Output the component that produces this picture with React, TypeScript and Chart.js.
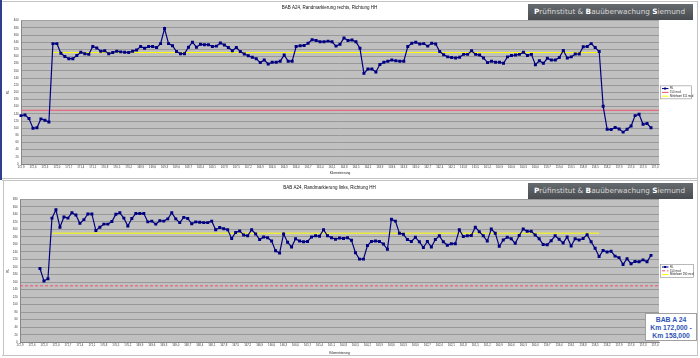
import React, { useEffect, useRef } from 'react';
import { Chart, registerables } from 'chart.js';
Chart.register(...registerables);

// ---------- DATA ----------
const kmLabels: string[] = (
  '172,9 172,8 172,7 172,6 172,5 172,4 172,3 172,2 172,1 172,0 ' +
  '171,9 171,8 171,7 171,6 171,5 171,4 171,3 171,2 171,1 171,0 ' +
  '170,9 170,8 170,7 170,6 170,5 170,4 170,3 170,2 170,1 170,0 ' +
  '169,9 169,8 169,7 169,6 169,5 169,4 169,3 169,2 169,1 169,0 ' +
  '168,9 168,8 168,7 168,6 168,5 168,4 168,3 168,2 168,1 168,0 ' +
  '167,9 167,8 167,7 167,6 167,5 167,4 167,3 167,2 167,1 167,0 ' +
  '166,9 166,8 166,7 166,6 166,5 166,4 166,3 166,2 166,1 166,0 ' +
  '165,9 165,8 165,7 165,6 165,5 165,4 165,3 165,2 165,1 165,0 ' +
  '164,9 164,8 164,7 164,6 164,5 164,4 164,3 164,2 164,1 164,0 ' +
  '163,9 163,8 163,7 163,6 163,5 163,4 163,3 163,2 163,1 163,0 ' +
  '162,9 162,8 162,7 162,6 162,5 162,4 162,3 162,2 162,1 162,0 ' +
  '161,9 161,8 161,7 161,6 161,5 161,4 161,3 161,2 161,1 161,0 ' +
  '160,9 160,8 160,7 160,6 160,5 160,4 160,3 160,2 160,1 160,0 ' +
  '159,9 159,8 159,7 159,6 159,5 159,4 159,3 159,2 159,1 159,0 ' +
  '158,9 158,8 158,7 158,6 158,5 158,4 158,3 158,2 158,1 158,0 ' +
  '157,9 157,8 157,7 157,6 157,5 157,4 157,3 157,2 157,1 157,0 ' +
  '156,9'
).split(' ');

// Randmarkierung rechts (top chart)
const rlRechts: (number | null)[] = [
  135, 137, 127, 100, 101, 126, 122, 117, 336, 336,
  309, 300, 294, 294, 303, 312, 308, 306, 328, 324,
  315, 316, 308, 311, 315, 313, 312, 311, 315, 318,
  328, 323, 328, 328, 325, 336, 378, 336, 330, 314,
  308, 308, 326, 340, 326, 334, 333, 333, 328, 329,
  338, 332, 325,
  316, 325, 314, 307, 302, 298, 294, 283, 290, 279,
  284, 284, 287, 304, 287, 287, 328, 330, 331, 337,
  347, 345, 341, 341, 343, 341, 329, 334, 352, 345,
  346, 341, 323, 253, 265, 265, 257, 278, 284, 287,
  290, 288, 287, 287, 328, 337, 340, 335, 336, 329,
  337, 335, 314, 305, 299, 297, 296,
  298, 306, 306, 316, 306, 304, 296, 283, 287, 284,
  284, 281, 299, 303, 304, 306, 312, 303, 306, 277,
  288, 281, 295, 290, 290, 297, 317, 296, 299, 307,
  307, 327, 328, 336, 325, 314, 161, 97, 96, 102,
  98, 89, 97, 106, 135, 139, 111, 113, 101,
];

// Randmarkierung links (bottom chart)
const rlLinks: (number | null)[] = [
  null, null, null, null, null,
  196, 163, 169, 330, 352, 306, 333, 330, 344, 338,
  316, 326, 341, 341, 297, 306, 314, 314, 321, 340,
  344, 330, 309, 329, 342, 342, 342, 320, 322, 314,
  323, 322, 328, 344, 328, 318, 332, 329, 315, 320,
  319, 318, 318, 322, 299, 305, 302, 299,
  276, 292, 296, 285, 283, 299, 288, 273, 280, 278,
  269, 243, 237, 288, 266, 253, 275, 269, 267, 268,
  280, 283, 282, 299, 283, 278, 274, 277, 276, 278,
  271, 238, 221, 221, 257, 268, 269, 268, 261, 247,
  327, 322, 290, 287, 273, 268, 279, 267, 252, 268,
  253, 273, 283, 267, 258, 262, 262,
  299, 281, 283, 284, 306, 294, 283, 269, 301, 290,
  255, 272, 279, 275, 263, 284, 301, 295, 295, 285,
  275, 260, 259, 270, 283, 274, 264, 280, 256, 275,
  272, 276, 286, 267, 250, 228, 244, 240, 242, 229,
  225, 207, 222, 209, 215, 214, 219, 214, 231,
];

const grenzwert = 150;
const mittelRechts = 311;
const mittelLinks = 290;
const mittelStart = '172,1';
const mittelEnd = '158,4';
const yMaxRechts = 400;
const yMaxLinks = 380;
const titleRechts = 'BAB A24, Randmarkierung rechts, Richtung HH';
const titleLinks = 'BAB A24, Randmarkierung links, Richtung HH';

// ---------- CHART ----------
const FONT = '"Liberation Sans", Arial, sans-serif';

const plotBg = {
  id: 'plotBg',
  beforeDraw(chart: any) {
    const { ctx, chartArea: a } = chart;
    ctx.save();
    ctx.fillStyle = '#c0c0c0';
    ctx.fillRect(a.left, a.top, a.right - a.left, a.bottom - a.top);
    ctx.restore();
  },
};

const boxLegend = (w: number) => ({
  id: 'boxLegend',
  afterDraw(chart: any) {
    const { ctx, chartArea: a } = chart;
    const h = 13;
    const x = a.right + 1.5;
    const y = (a.top + a.bottom) / 2 - h / 2;
    ctx.save();
    ctx.fillStyle = '#ffffff';
    ctx.fillRect(x, y, w, h);
    ctx.strokeStyle = '#8a8a8a';
    ctx.lineWidth = 0.6;
    ctx.strokeRect(x, y, w, h);
    chart.data.datasets.forEach((ds: any, i: number) => {
      const ly = y + 2.7 + i * 3.8;
      ctx.strokeStyle = ds.borderColor;
      ctx.lineWidth = 1;
      ctx.setLineDash(ds.borderDash || []);
      ctx.beginPath();
      ctx.moveTo(x + 1.5, ly);
      ctx.lineTo(x + 8, ly);
      ctx.stroke();
      ctx.setLineDash([]);
      if (i === 0) {
        ctx.fillStyle = ds.borderColor;
        ctx.fillRect(x + 3.6, ly - 1, 2, 2);
      }
      ctx.fillStyle = '#222';
      ctx.font = '2.8px ' + FONT;
      ctx.textBaseline = 'middle';
      ctx.fillText(ds.label, x + 9.5, ly);
    });
    ctx.restore();
  },
});

type PanelProps = {
  values: (number | null)[];
  mean: number;
  yMax: number;
  title: string;
  dashed: boolean;
  top: number;
  area: { left: number; right: number; top: number; bottom: number };
  legendW: number;
};

function ChartPanel(p: PanelProps) {
  const ref = useRef<HTMLCanvasElement | null>(null);
  useEffect(() => {
    if (!ref.current) return;
    const H = 178;
    const titleSize = 4.5;
    const titleH = titleSize * 1.2;
    const chart = new Chart(ref.current, {
      type: 'line',
      data: {
        labels: kmLabels,
        datasets: [
          {
            label: 'RL',
            data: p.values,
            borderColor: '#000080',
            backgroundColor: '#000080',
            borderWidth: 1.2,
            pointStyle: 'rect',
            pointRadius: 2.1,
            pointBorderWidth: 0,
            pointBackgroundColor: '#000080',
            spanGaps: false,
          } as any,
          {
            label: grenzwert + ' mcd',
            data: [
              { x: kmLabels[0], y: grenzwert },
              { x: kmLabels[kmLabels.length - 1], y: grenzwert },
            ],
            borderColor: '#f0506a',
            borderWidth: 1,
            pointRadius: 0,
            borderDash: p.dashed ? [3, 2] : [],
          } as any,
          {
            label: 'Mittelwert ' + p.mean + ' mcd',
            data: [
              { x: mittelStart, y: p.mean },
              { x: mittelEnd, y: p.mean },
            ],
            borderColor: '#ffff00',
            borderWidth: 1,
            pointRadius: 0,
          } as any,
        ],
      },
      options: {
        responsive: false,
        animation: false,
        events: [],
        layout: { padding: { left: 0, right: 700 - p.area.right, top: 0, bottom: 0 } },
        plugins: {
          legend: { display: false },
          tooltip: { enabled: false },
          title: {
            display: true,
            text: p.title,
            color: '#111',
            font: { family: FONT, size: titleSize, weight: 'normal' },
            padding: { top: 5, bottom: p.area.top - 5 - titleH },
          },
        },
        scales: {
          x: {
            grid: { display: false, drawTicks: false, tickLength: 0 },
            border: { color: '#7a7a7a', width: 0.8 },
            ticks: {
              autoSkip: false,
              maxRotation: 0,
              minRotation: 0,
              padding: 1.5,
              color: '#333',
              font: { family: FONT, size: 2.8 },
              callback: function (this: any, v: any, i: number) {
                return i % 3 === 0 ? this.getLabelForValue(v) : null;
              },
            },
            title: {
              display: true,
              text: 'Kilometrierung',
              color: '#222',
              font: { family: FONT, size: 3.2 },
              padding: { top: 0, bottom: 2.5 },
            },
            afterFit: (s: any) => {
              s.height = H - p.area.bottom;
            },
          },
          y: {
            min: 0,
            max: p.yMax,
            border: { color: '#7a7a7a', width: 0.8 },
            grid: { color: '#8e8e8e', lineWidth: 0.8, drawTicks: false, tickLength: 0 },
            ticks: {
              stepSize: 20,
              padding: 2.5,
              color: '#333',
              font: { family: FONT, size: 2.8 },
            },
            title: {
              display: true,
              text: 'RL',
              color: '#222',
              font: { family: FONT, size: 3 },
              padding: { top: 6, bottom: 0, left: 0, right: 0 },
            },
            afterFit: (s: any) => {
              s.width = p.area.left;
            },
          },
        },
      } as any,
      plugins: [plotBg, boxLegend(p.legendW)],
    });
    return () => chart.destroy();
  }, []);
  return (
    <canvas
      ref={ref}
      width={700}
      height={178}
      style={{ position: 'absolute', left: 0, top: p.top, width: 700, height: 178 }}
    />
  );
}

function Logo({ top }: { top: number }) {
  const b = { color: '#ffffff', fontWeight: 'bold' as const };
  return (
    <div
      style={{
        position: 'absolute',
        left: 528,
        top,
        width: 165,
        height: 16,
        background: 'linear-gradient(#666b70, #484c50)',
        color: '#d4d4d4',
        fontFamily: '"DejaVu Sans", sans-serif',
        fontSize: 7.3,
        lineHeight: '16px',
        paddingLeft: 6,
        boxSizing: 'border-box',
        whiteSpace: 'nowrap',
      }}
    >
      <span style={b}>P</span>rüfinstitut &amp; <span style={b}>B</span>auüberwachung{' '}
      <span style={b}>S</span>iemund
    </div>
  );
}

export default function App() {
  return (
    <div
      style={{
        position: 'fixed',
        left: 0,
        top: 0,
        width: 700,
        height: 358,
        background: '#ffffff',
        overflow: 'hidden',
      }}
    >
      <div style={{ position: 'absolute', left: 2, top: 1, width: 696, height: 0, borderTop: '1.5px solid #c4c4c4' }} />
      <div style={{ position: 'absolute', left: 2, top: 177.5, width: 696, height: 0, borderTop: '1.5px solid #c4c4c4' }} />
      <div style={{ position: 'absolute', left: 2, top: 180, width: 696, height: 0, borderTop: '1.5px solid #c4c4c4' }} />
      <div style={{ position: 'absolute', left: 2, top: 355, width: 696, height: 0, borderTop: '1.5px solid #c4c4c4' }} />
      <div style={{ position: 'absolute', left: 697, top: 1, width: 0, height: 354, borderLeft: '1.5px solid #c4c4c4' }} />
      <div style={{ position: 'absolute', left: 2.5, top: 180, width: 0, height: 176, borderLeft: '1.5px solid #c4c4c4' }} />
      <div style={{ position: 'absolute', left: 0, top: 0, width: 2, height: 180, background: '#2e3f8f' }} />

      <ChartPanel
        values={rlRechts}
        mean={mittelRechts}
        yMax={yMaxRechts}
        title={titleRechts}
        dashed={false}
        top={0}
        area={{ left: 21, right: 659, top: 20.7, bottom: 164 }}
        legendW={31}
      />
      <ChartPanel
        values={rlLinks}
        mean={mittelLinks}
        yMax={yMaxLinks}
        title={titleLinks}
        dashed={true}
        top={180}
        area={{ left: 20, right: 659, top: 19.3, bottom: 162.3 }}
        legendW={33}
      />

      <Logo top={4} />
      <Logo top={182.5} />

      <div
        style={{
          position: 'absolute',
          left: 645,
          top: 313,
          width: 52,
          height: 28,
          boxSizing: 'border-box',
          background: '#ffffff',
          border: '1px solid #a0a0a0',
          color: '#2f55b5',
          fontFamily: '"Liberation Sans", Arial, sans-serif',
          fontWeight: 'bold',
          fontSize: 6.8,
          lineHeight: '8.2px',
          textAlign: 'center',
          paddingTop: 1.5,
          whiteSpace: 'nowrap',
        }}
      >
        BAB A 24
        <br />
        Km 172,000 -
        <br />
        Km 158,000
      </div>
    </div>
  );
}
